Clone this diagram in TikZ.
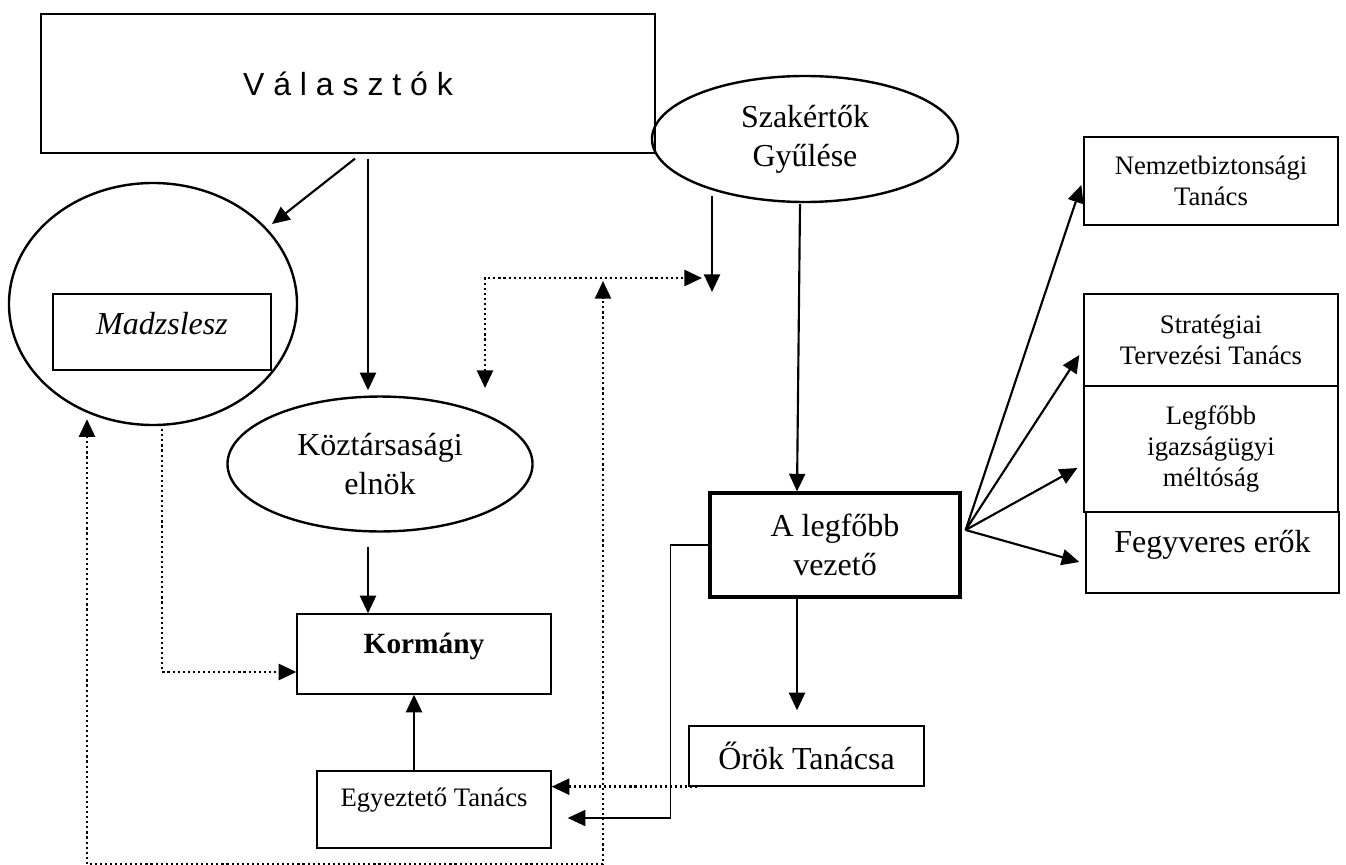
\documentclass[tikz,border=0pt]{standalone}
\usepackage{fontspec}
\setmainfont{Liberation Serif}
\newfontfamily\arialfont{Liberation Sans}
\usetikzlibrary{shapes.geometric,arrows.meta,calc}

\tikzset{
  box/.style={draw, rectangle, line width=0.5pt, inner sep=0pt, align=center},
  oval/.style={draw, ellipse, line width=0.9pt, inner sep=0pt, align=center},
  arr/.style={line width=0.8pt, ->},
  dotarr/.style={line width=0.9pt, dash pattern=on 0.8pt off 1.1pt},
  big/.style={font=\fontsize{12}{14.5}\selectfont},
  small/.style={font=\fontsize{10}{11.8}\selectfont},
}

\begin{document}
\begin{tikzpicture}[x=0.375pt, y=-0.375pt, >={Triangle[length=6.6pt,width=6pt]}]
  % Frame
  \useasboundingbox (0,0) rectangle (1346,865);

  % Voters, parliament, president
  \node[box, minimum width=230.25pt, minimum height=52.1pt, font=\arialfont\fontsize{12}{14}\selectfont] (valasztok) at (348,83.5) {V á l a s z t ó k};
  \node[oval, minimum width=108pt, minimum height=90.75pt] (madzskor) at (153,304) {};
  \node[box, line width=0.8pt, minimum width=81.75pt, minimum height=28.5pt, font=\fontsize{12}{14}\selectfont\itshape, text height=8.2pt, text depth=6pt] (madzslesz) at (162,332) {Madzslesz};
  \node[oval, big, minimum width=114.4pt, minimum height=50.6pt] (elnok) at (380,464) {Köztársasági\\elnök};

  % Government
  \node[box, minimum width=95.25pt, minimum height=30pt, font=\fontsize{11}{13}\selectfont\bfseries, text height=7.5pt, text depth=8.2pt] (kormany) at (424,654) {Kormány};
  \node[box, small, minimum width=87.75pt, minimum height=28.9pt, text height=7pt, text depth=8.9pt] (egyezteto) at (434,809.5) {Egyeztető Tanács};

  % Experts and the leader
  \node[oval, big, minimum width=114.75pt, minimum height=47.25pt] (szakertok) at (805,139) {Szakértők\\Gyűlése};
  \node[box, big, line width=1.2pt, minimum width=93.75pt, minimum height=39pt] (vezeto) at (835,545) {A legfőbb\\vezető};
  \node[box, big, minimum width=88.1pt, minimum height=22.5pt] (orok) at (806.5,756) {Őrök Tanácsa};

  % Bodies under the leader
  \node[box, small, minimum width=95.25pt, minimum height=33pt] (nemzet) at (1211,181) {Nemzetbiztonsági\\Tanács};
  \node[box, small, minimum width=95.25pt, minimum height=34.5pt] (strat) at (1211,340) {Stratégiai\\Tervezési Tanács};
  \node[box, small, minimum width=95.25pt, minimum height=47.25pt] (igazsag) at (1211,449) {Legfőbb\\igazságügyi\\méltóság};
  \node[box, big, minimum width=94.9pt, minimum height=30.4pt, text height=8.3pt, text depth=8.3pt] (fegyver) at (1212.5,552.5) {Fegyveres erők};

  % Voters elect
  \draw[arr] ($(valasztok.south)+(7,5)$) -- ($(madzskor.center)+(119,-80)$);
  \draw[arr] ($(valasztok.south)+(20,5)$) -- ($(elnok.north)+(-12,-5)$);

  % Experts
  \coordinate (szakjel) at (712,292);
  \draw[arr] ($(szakertok.south)+(-5,1)$) -- ($(vezeto.north)+(-38,0)$);
  \draw[arr] ($(szakertok.south)+(-93,-7)$) -- (szakjel);

  % Dotted links
  \coordinate (jelzes) at (702,278);
  \coordinate (elnokjel) at (485,388);
  \coordinate (hurok) at (603,281);
  \draw[dotarr, <->] (elnokjel) |- (jelzes);
  \draw[dotarr, <->] ($(madzskor.south)+(-66,-7)$) -- ++(0,445) -| (hurok);
  \draw[dotarr, ->] ($(madzskor.south)+(9,3)$) |- ($(kormany.west)+(0,18)$);
  \draw[dotarr, ->] ($(orok.south west)+(9,0)$) -- (orok.south west -| egyezteto.east);

  % Government
  \draw[arr] ($(elnok.south)+(-12,14)$) -- ($(kormany.north)+(-56,0)$);
  \draw[arr] ($(egyezteto.north)+(-20,0)$) -- ($(kormany.south)+(-10,0)$);

  % Leader
  \draw[arr] ($(vezeto.south)+(-38,0)$) -- ($(orok.north)+(-9.5,-15)$);
  \draw[arr, line width=0.6pt] (vezeto.west) -- ++(-38,0) |- ($(egyezteto.east)+(16,8.5)$);

  % Fan to the councils
  \coordinate (legyezo) at ($(vezeto.east)+(4,-15)$);
  \draw[arr] (legyezo) -- ($(nemzet.west)+(-2,4)$);
  \draw[arr] (legyezo) -- ($(strat.west)+(-4,15)$);
  \draw[arr] (legyezo) -- ($(igazsag.west)+(-6,19)$);
  \draw[arr] (legyezo) -- ($(fegyver.west)+(-6,9.5)$);
\end{tikzpicture}
\end{document}
